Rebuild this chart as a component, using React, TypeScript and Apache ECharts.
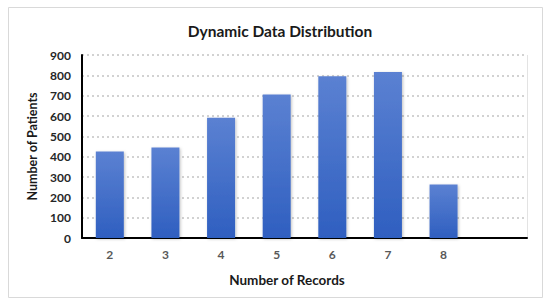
import React, { useEffect, useRef } from "react";
import * as echarts from "echarts";

const categories = ["2", "3", "4", "5", "6", "7", "8", ""];
const patients = [425, 445, 592, 706, 796, 817, 263, null];
const yTicks = [0, 100, 200, 300, 400, 500, 600, 700, 800, 900];

const FONT = "Lato, 'Open Sans', sans-serif";

export default function App() {
  const ref = useRef<HTMLDivElement>(null);
  useEffect(() => {
    if (!ref.current) return;
    const chart = echarts.init(ref.current, undefined, { renderer: "svg" });
    chart.setOption({
      animation: false,
      backgroundColor: "#ffffff",
      title: [
        {
          text: "Dynamic Data Distribution",
          left: 275,
          top: 18,
          textAlign: "center",
          textStyle: { fontFamily: FONT, fontSize: 15.5, fontWeight: "bold", color: "#1a1a1a" },
        },
        {
          text: "Number of Records",
          left: 282,
          top: 268,
          textAlign: "center",
          textStyle: { fontFamily: FONT, fontSize: 13.5, fontWeight: "bold", color: "#1a1a1a" },
        },
      ],
      graphic: [
        {
          type: "rect",
          shape: { x: 8.5, y: 7.5, width: 534, height: 290 },
          style: { fill: "none", stroke: "#d9d9d9", lineWidth: 1 },
          silent: true,
          z: -1,
        },
        {
          type: "line",
          shape: { x1: 527.5, y1: 55, x2: 527.5, y2: 238 },
          style: { stroke: "#e3e3e3", lineWidth: 1 },
          silent: true,
        },
      ],
      grid: { left: 82, right: 23, top: 55, bottom: 70, containLabel: false },
      xAxis: {
        type: "category",
        data: categories,
        axisLine: { show: true, lineStyle: { color: "#000000", width: 2 } },
        axisTick: { show: false },
        axisLabel: {
          fontFamily: FONT,
          fontSize: 12,
          fontWeight: "bold",
          color: "#595959",
          margin: 10,
        },
        splitLine: { show: false },
      },
      yAxis: {
        type: "value",
        min: yTicks[0],
        max: yTicks[yTicks.length - 1],
        interval: 100,
        name: "Number of Patients",
        nameLocation: "middle",
        nameGap: 43,
        nameTextStyle: { fontFamily: FONT, fontSize: 12.5, fontWeight: "bold", color: "#1a1a1a" },
        axisLine: { show: true, lineStyle: { color: "#000000", width: 2 } },
        axisTick: { show: false },
        axisLabel: {
          fontFamily: FONT,
          fontSize: 12,
          fontWeight: "bold",
          color: "#262626",
          margin: 11,
        },
        splitLine: {
          show: true,
          lineStyle: { color: "#c4c4c4", type: [2, 3], width: 1.5 },
        },
      },
      series: [
        {
          type: "bar",
          data: patients,
          barWidth: 28,
          itemStyle: {
            color: new echarts.graphic.LinearGradient(0, 0, 0, 1, [
              { offset: 0, color: "#5b81d2" },
              { offset: 1, color: "#2f5fc0" },
            ]),
            shadowColor: "rgba(0,0,0,0.25)",
            shadowBlur: 3,
            shadowOffsetX: 1,
            shadowOffsetY: 1,
          },
        },
      ],
    });
    return () => chart.dispose();
  }, []);
  return (
    <div
      ref={ref}
      style={{ position: "absolute", left: 0, top: 0, width: 550, height: 308 }}
    />
  );
}
